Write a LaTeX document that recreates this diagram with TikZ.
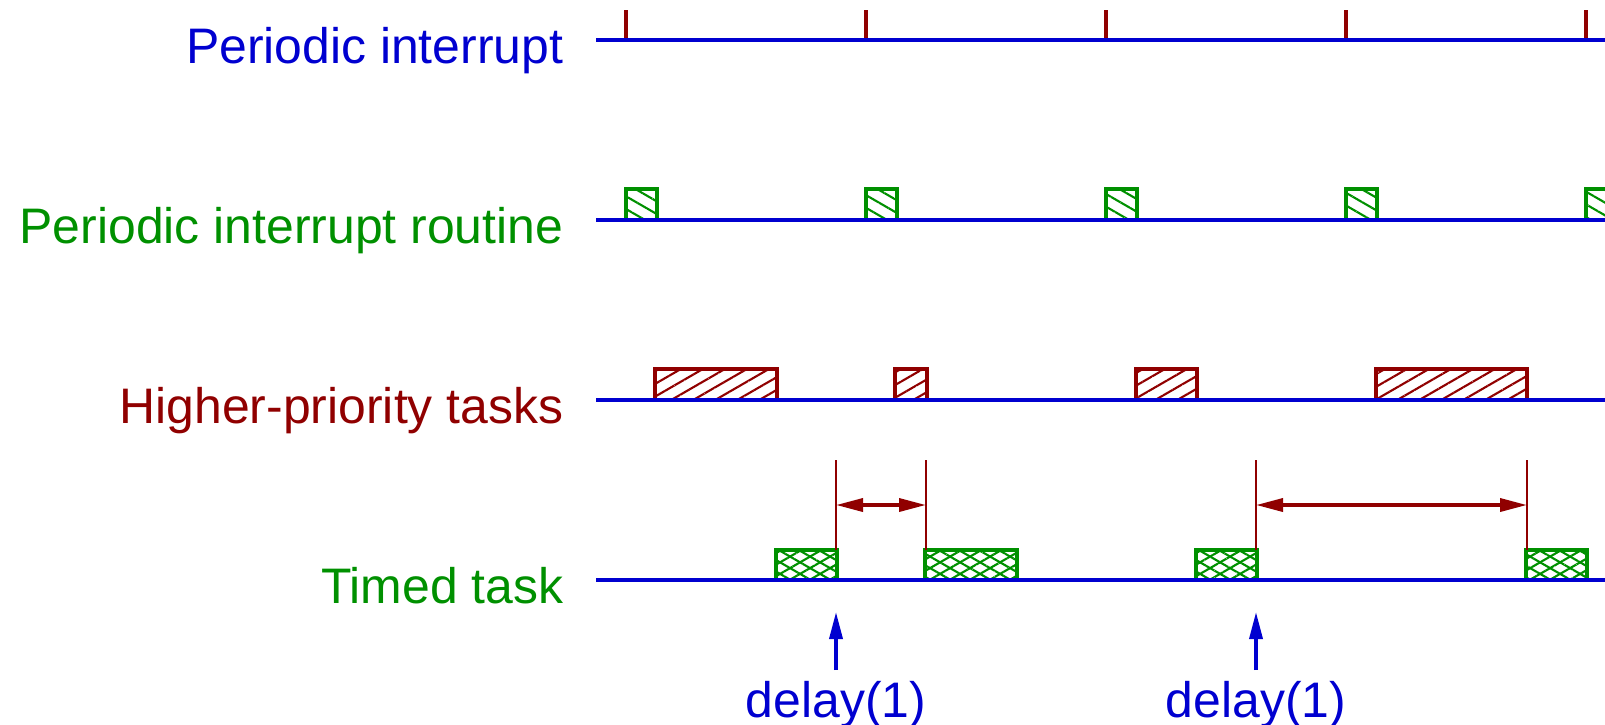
\documentclass[tikz,border=0pt]{standalone}
\usepackage{fontspec}
\setmainfont{Liberation Sans}
\usetikzlibrary{arrows.meta,patterns.meta}
\definecolor{figblue}{RGB}{0,0,208}
\definecolor{figgreen}{RGB}{0,144,0}
\definecolor{figred}{RGB}{144,0,0}
\tikzset{
  axis/.style={figblue, line width=1.2pt},
  tickmark/.style={figred, line width=1.1pt},
  rowlabel/.style={anchor=base east, inner sep=0pt, font=\fontsize{14.2}{17}\selectfont},
  isrbox/.style={figgreen, line width=1.0pt,
    pattern={Lines[angle=-30, distance=0.11cm, line width=0.6pt]}, pattern color=figgreen},
  hpbox/.style={figred, line width=1.0pt,
    pattern={Lines[angle=30, distance=0.11cm, line width=0.6pt]}, pattern color=figred},
  timedfill/.style={pattern={Lines[angle=30, distance=0.1cm, line width=0.6pt]}, pattern color=figgreen},
  timedbox/.style={figgreen, line width=1.0pt,
    pattern={Lines[angle=-30, distance=0.1cm, line width=0.6pt]}, pattern color=figgreen},
  dimline/.style={figred, line width=0.45pt},
  dimarrow/.style={figred, line width=1.0pt,
    {Triangle[length=0.27cm, width=0.13cm]}-{Triangle[length=0.27cm, width=0.13cm]}},
  delaytext/.style={figblue, anchor=base, inner sep=0.1cm, font=\fontsize{14.2}{17}\selectfont},
  callarrow/.style={figblue, line width=1.0pt, -{Triangle[length=0.27cm, width=0.13cm]}}
}

\begin{document}
\begin{tikzpicture}
	%%%%% START %%%%%
	\useasboundingbox (0,0) rectangle (16.05,-7.24);

	% row labels
	\node[rowlabel, figblue]  (irqtext) at (5.64,-0.63) {Periodic interrupt};
	\node[rowlabel, figgreen] (isrtext) at (5.64,-2.43) {Periodic interrupt routine};
	\node[rowlabel, figred]   (hpttext) at (5.64,-4.23) {Higher-priority tasks};
	\node[rowlabel, figgreen] (tmdtext) at (5.64,-6.03) {Timed task};

	% ticks and interrupt routines
	\foreach \x in {6.26,8.66,11.06,13.46,15.86}{
		\draw[tickmark] (\x,-0.40) -- (\x,-0.10);
		\draw[isrbox] (\x,-2.20) rectangle ++(0.31,0.31);
	}

	% higher-priority tasks
	\foreach \a/\b in {6.55/7.77,8.95/9.27,11.36/11.97,13.76/15.27}
		\draw[hpbox] (\a,-4.00) rectangle (\b,-3.69);

	% timed task
	\foreach \a/\b in {7.76/8.37,9.25/10.17,11.96/12.57,15.26/15.87}{
		\fill[timedfill] (\a,-5.80) rectangle (\b,-5.50);
		\draw[timedbox] (\a,-5.80) rectangle (\b,-5.50);
	}

	% time lines
	\foreach \y in {-0.40,-2.20,-4.00,-5.80}
		\draw[axis] (5.96,\y) -- (16.05,\y);

	% waiting intervals
	\draw[dimline] (8.36,-5.50) -- (8.36,-4.60);
	\draw[dimline] (9.26,-5.50) -- (9.26,-4.60);
	\coordinate (waitAa) at (8.36,-5.05);
	\coordinate (waitAb) at (9.26,-5.05);
	\draw[dimarrow] (waitAa) -- (waitAb);

	\draw[dimline] (12.56,-5.50) -- (12.56,-4.60);
	\draw[dimline] (15.27,-5.50) -- (15.27,-4.60);
	\coordinate (waitBa) at (12.56,-5.05);
	\coordinate (waitBb) at (15.27,-5.05);
	\draw[dimarrow] (waitBa) -- (waitBb);

	% delay calls
	\node[delaytext] (delayA) at (8.36,-7.17) {delay(1)};
	\node[delaytext] (delayB) at (12.56,-7.17) {delay(1)};
	\coordinate (callA) at (8.36,-6.12);
	\coordinate (callB) at (12.56,-6.12);
	\draw[callarrow] (delayA.north) -- (callA);
	\draw[callarrow] (delayB.north) -- (callB);
	%%%%% END %%%%%
\end{tikzpicture}
\end{document}
